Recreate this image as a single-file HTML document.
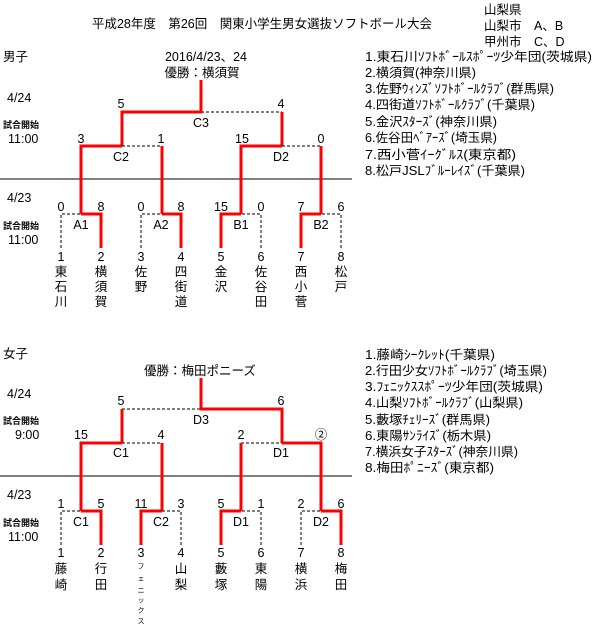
<!DOCTYPE html>
<html><head><meta charset="utf-8"><style>
html,body{margin:0;padding:0;background:#fff}
svg{display:block}
text{font-family:"Liberation Sans","Noto Sans CJK JP",sans-serif;font-size:12.5px;fill:#000;dominant-baseline:central}
.m{text-anchor:middle}
.s{font-size:9px;font-weight:bold}
.r{stroke:#f00;stroke-width:3;fill:none}
.d{stroke:#000;stroke-width:1;stroke-dasharray:3,2;fill:none}
.k{stroke:#000;stroke-width:1}
.f{font-size:7px}
</style></head><body>
<svg width="602" height="631" viewBox="0 0 602 631" xmlns="http://www.w3.org/2000/svg">
<text x="92" y="24" textLength="340" lengthAdjust="spacingAndGlyphs">平成28年度　第26回　関東小学生男女選抜ソフトボール大会</text>
<text x="484" y="10">山梨県</text>
<text x="484" y="26">山梨市　A、B</text>
<text x="484" y="42">甲州市　C、D</text>
<g>
<text x="365" y="57" textLength="227" lengthAdjust="spacingAndGlyphs">1.東石川ｿﾌﾄﾎﾞｰﾙｽﾎﾟｰﾂ少年団(茨城県)</text>
<text x="365" y="73" textLength="111" lengthAdjust="spacingAndGlyphs">2.横須賀(神奈川県)</text>
<text x="365" y="89" textLength="189" lengthAdjust="spacingAndGlyphs">3.佐野ｳｨﾝｽﾞｿﾌﾄﾎﾞｰﾙｸﾗﾌﾞ(群馬県)</text>
<text x="365" y="105" textLength="170" lengthAdjust="spacingAndGlyphs">4.四街道ｿﾌﾄﾎﾞｰﾙｸﾗﾌﾞ(千葉県)</text>
<text x="365" y="122" textLength="132" lengthAdjust="spacingAndGlyphs">5.金沢ｽﾀｰｽﾞ(神奈川県)</text>
<text x="365" y="138" textLength="132" lengthAdjust="spacingAndGlyphs">6.佐谷田ﾍﾞｱｰｽﾞ(埼玉県)</text>
<text x="365" y="155" textLength="151" lengthAdjust="spacingAndGlyphs">7.西小菅ｲｰｸﾞﾙｽ(東京都)</text>
<text x="365" y="171" textLength="160" lengthAdjust="spacingAndGlyphs">8.松戸JSLﾌﾞﾙｰﾚｲｽﾞ(千葉県)</text>
<text x="365" y="355" textLength="130" lengthAdjust="spacingAndGlyphs">1.藤崎ｼｰｸﾚｯﾄ(千葉県)</text>
<text x="365" y="371" textLength="182" lengthAdjust="spacingAndGlyphs">2.行田少女ｿﾌﾄﾎﾞｰﾙｸﾗﾌﾞ(埼玉県)</text>
<text x="365" y="387" textLength="178" lengthAdjust="spacingAndGlyphs">3.ﾌｪﾆｯｸｽｽﾎﾟｰﾂ少年団(茨城県)</text>
<text x="365" y="403" textLength="158" lengthAdjust="spacingAndGlyphs">4.山梨ｿﾌﾄﾎﾞｰﾙｸﾗﾌﾞ(山梨県)</text>
<text x="365" y="420" textLength="125" lengthAdjust="spacingAndGlyphs">5.藪塚ﾁｪﾘｰｽﾞ(群馬県)</text>
<text x="365" y="436" textLength="126" lengthAdjust="spacingAndGlyphs">6.東陽ｻﾝﾗｲｽﾞ(栃木県)</text>
<text x="365" y="452" textLength="153" lengthAdjust="spacingAndGlyphs">7.横浜女子ｽﾀｰｽﾞ(神奈川県)</text>
<text x="365" y="468" textLength="129" lengthAdjust="spacingAndGlyphs">8.梅田ﾎﾟﾆｰｽﾞ(東京都)</text>
</g>

<!-- BOYS -->
<text x="3" y="57">男子</text>
<text class="m" x="206" y="57">2016/4/23、24</text>
<text class="m" x="202" y="73">優勝：横須賀</text>
<text x="7" y="98">4/24</text>
<text class="s" x="3" y="125">試合開始</text>
<text x="8" y="139">11:00</text>
<line class="k" x1="0" y1="179" x2="352" y2="179"/>
<text x="7" y="198">4/23</text>
<text class="s" x="3" y="226">試合開始</text>
<text x="8" y="240">11:00</text>

<path class="d" d="M201 112H282"/>
<path class="r" d="M201 80V112H122V146"/>
<path class="r" d="M282 112V146"/>
<path class="d" d="M122 146H162"/>
<path class="r" d="M122 146H81V214"/>
<path class="r" d="M162 146V214"/>
<path class="d" d="M282 146H321"/>
<path class="r" d="M282 146H241V214"/>
<path class="r" d="M321 146V214"/>
<path class="d" d="M61 248V214H81"/>
<path class="r" d="M81 214H101V248"/>
<path class="d" d="M141 248V214H162"/>
<path class="r" d="M162 214H181V248"/>
<path class="d" d="M261 248V214H241"/>
<path class="r" d="M241 214H221V248"/>
<path class="d" d="M341 248V214H321"/>
<path class="r" d="M321 214H301V248"/>
<g>
<text class="m" x="121" y="104">5</text><text class="m" x="281" y="104">4</text><text class="m" x="201" y="123">C3</text>
<text class="m" x="81" y="139">3</text><text class="m" x="161" y="139">1</text><text class="m" x="121" y="157">C2</text>
<text class="m" x="242" y="139">15</text><text class="m" x="321" y="139">0</text><text class="m" x="281" y="157">D2</text>
<text class="m" x="61" y="207">0</text><text class="m" x="101" y="207">8</text><text class="m" x="81" y="225">A1</text>
<text class="m" x="141" y="207">0</text><text class="m" x="181" y="207">8</text><text class="m" x="161" y="225">A2</text>
<text class="m" x="221" y="207">15</text><text class="m" x="261" y="207">0</text><text class="m" x="241" y="225">B1</text>
<text class="m" x="301" y="207">7</text><text class="m" x="341" y="207">6</text><text class="m" x="321" y="225">B2</text>
</g>
<g>
<text class="m" x="61" y="257">1</text><text class="m" x="61" y="272">東</text><text class="m" x="61" y="287">石</text><text class="m" x="61" y="302">川</text>
<text class="m" x="101" y="257">2</text><text class="m" x="101" y="272">横</text><text class="m" x="101" y="287">須</text><text class="m" x="101" y="302">賀</text>
<text class="m" x="141" y="257">3</text><text class="m" x="141" y="272">佐</text><text class="m" x="141" y="287">野</text>
<text class="m" x="181" y="257">4</text><text class="m" x="181" y="272">四</text><text class="m" x="181" y="287">街</text><text class="m" x="181" y="302">道</text>
<text class="m" x="221" y="257">5</text><text class="m" x="221" y="272">金</text><text class="m" x="221" y="287">沢</text>
<text class="m" x="261" y="257">6</text><text class="m" x="261" y="272">佐</text><text class="m" x="261" y="287">谷</text><text class="m" x="261" y="302">田</text>
<text class="m" x="301" y="257">7</text><text class="m" x="301" y="272">西</text><text class="m" x="301" y="287">小</text><text class="m" x="301" y="302">菅</text>
<text class="m" x="341" y="257">8</text><text class="m" x="341" y="272">松</text><text class="m" x="341" y="287">戸</text>
</g>

<!-- GIRLS -->
<text x="3" y="354">女子</text>
<text class="m" x="200" y="371">優勝：梅田ポニーズ</text>
<text x="7" y="394">4/24</text>
<text class="s" x="3" y="421">試合開始</text>
<text x="15" y="435">9:00</text>
<line class="k" x1="0" y1="476" x2="352" y2="476"/>
<text x="7" y="495">4/23</text>
<text class="s" x="3" y="523">試合開始</text>
<text x="8" y="537">11:00</text>

<path class="d" d="M122 409H201"/>
<path class="r" d="M201 378V409H282V443"/>
<path class="r" d="M122 409V443"/>
<path class="d" d="M122 443H162"/>
<path class="r" d="M122 443H81V511"/>
<path class="r" d="M162 443V511"/>
<path class="d" d="M241 443H282"/>
<path class="r" d="M282 443H321V511"/>
<path class="r" d="M241 443V511"/>
<path class="d" d="M61 545V511H81"/>
<path class="r" d="M81 511H101V545"/>
<path class="d" d="M181 545V511H162"/>
<path class="r" d="M162 511H141V545"/>
<path class="d" d="M261 545V511H241"/>
<path class="r" d="M241 511H221V545"/>
<path class="d" d="M301 545V511H321"/>
<path class="r" d="M321 511H341V545"/>
<g>
<text class="m" x="121" y="401">5</text><text class="m" x="281" y="401">6</text><text class="m" x="201" y="420">D3</text>
<text class="m" x="81" y="435">15</text><text class="m" x="161" y="435">4</text><text class="m" x="121" y="453">C1</text>
<text class="m" x="241" y="435">2</text><text class="m" x="321" y="435">②</text><text class="m" x="281" y="453">D1</text>
<text class="m" x="61" y="504">1</text><text class="m" x="101" y="504">5</text><text class="m" x="81" y="522">C1</text>
<text class="m" x="141" y="504">11</text><text class="m" x="181" y="504">3</text><text class="m" x="161" y="522">C2</text>
<text class="m" x="221" y="504">5</text><text class="m" x="261" y="504">1</text><text class="m" x="241" y="522">D1</text>
<text class="m" x="301" y="504">2</text><text class="m" x="341" y="504">6</text><text class="m" x="321" y="522">D2</text>
</g>
<g>
<text class="m" x="61" y="553">1</text><text class="m" x="61" y="569">藤</text><text class="m" x="61" y="585">崎</text>
<text class="m" x="101" y="553">2</text><text class="m" x="101" y="569">行</text><text class="m" x="101" y="585">田</text>
<text class="m" x="141" y="553">3</text>
<text class="m f" x="141" y="567">フ</text><text class="m f" x="141" y="579">ェ</text><text class="m f" x="141" y="591">ニ</text><text class="m f" x="141" y="601">ッ</text><text class="m f" x="141" y="611">ク</text><text class="m f" x="141" y="622">ス</text>
<text class="m" x="181" y="553">4</text><text class="m" x="181" y="569">山</text><text class="m" x="181" y="585">梨</text>
<text class="m" x="221" y="553">5</text><text class="m" x="221" y="569">藪</text><text class="m" x="221" y="585">塚</text>
<text class="m" x="261" y="553">6</text><text class="m" x="261" y="569">東</text><text class="m" x="261" y="585">陽</text>
<text class="m" x="301" y="553">7</text><text class="m" x="301" y="569">横</text><text class="m" x="301" y="585">浜</text>
<text class="m" x="341" y="553">8</text><text class="m" x="341" y="569">梅</text><text class="m" x="341" y="585">田</text>
</g>
</svg>
</body></html>
